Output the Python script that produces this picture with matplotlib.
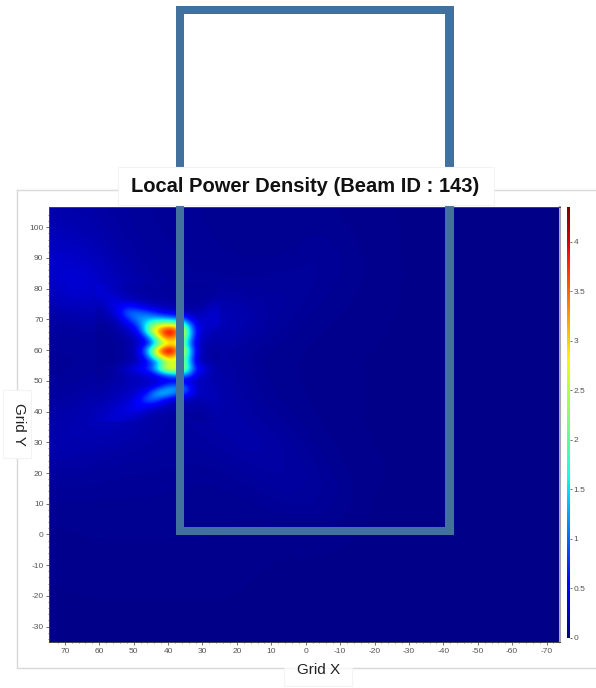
import matplotlib
matplotlib.use("Agg")
import matplotlib.pyplot as plt
import numpy as np
from matplotlib.patches import Rectangle
from matplotlib.lines import Line2D

W, H = 596, 688

x_ticks = [70, 60, 50, 40, 30, 20, 10, 0, -10, -20, -30, -40, -50, -60, -70]
y_ticks = [100, 90, 80, 70, 60, 50, 40, 30, 20, 10, 0, -10, -20, -30]
cbar_ticks = [0, 0.5, 1, 1.5, 2, 2.5, 3, 3.5, 4]
cbar_labels = ["0", "0.5", "1", "1.5", "2", "2.5", "3", "3.5", "4"]

# whole field, nodes every 10 units: x 75..-75, y 110..-40
coarse = [
    [.16, .16, .12, .10, .09, .08, .07, .07, .07, .06, .05, .05, .04, .04, .04, .04],
    [.20, .18, .13, .10, .09, .08, .07, .07, .08, .06, .05, .05, .04, .04, .04, .04],
    [.32, .28, .16, .12, .10, .09, .08, .08, .12, .07, .05, .05, .04, .04, .04, .04],
    [.25, .42, .24, .13, .10, .11, .10, .14, .09, .07, .05, .05, .04, .04, .04, .04],
    [.12, .14, .18, .20, .18, .30, .18, .10, .07, .06, .05, .05, .04, .04, .04, .04],
    [.10, .10, .10, .10, .10, .13, .08, .07, .06, .05, .05, .04, .04, .04, .04, .04],
    [.09, .10, .14, .15, .15, .20, .09, .07, .06, .05, .05, .04, .04, .04, .04, .04],
    [.14, .20, .30, .15, .12, .20, .12, .08, .06, .05, .05, .04, .04, .04, .04, .04],
    [.20, .20, .16, .14, .12, .14, .20, .12, .07, .05, .05, .04, .04, .04, .04, .04],
    [.12, .12, .10, .10, .09, .09, .12, .16, .10, .06, .05, .04, .04, .04, .04, .04],
    [.08, .08, .08, .08, .08, .07, .08, .11, .11, .06, .04, .04, .04, .04, .04, .04],
    [.06, .07, .07, .07, .07, .07, .06, .05, .06, .05, .04, .04, .04, .04, .04, .04],
    [.05, .06, .06, .06, .06, .06, .05, .05, .05, .04, .04, .04, .04, .04, .04, .04],
    [.05, .05, .05, .05, .05, .05, .05, .05, .04, .04, .04, .04, .04, .04, .04, .04],
    [.04, .05, .05, .05, .05, .05, .05, .04, .04, .04, .04, .04, .04, .04, .04, .04],
    [.04, .04, .04, .04, .04, .04, .04, .04, .04, .04, .04, .04, .04, .04, .04, .04],
]

# hot region, nodes every 2 units: x 60..26, y 80..38
hot = [
    [.33, .28, .24, .20, .17, .15, .14, .13, .12, .12, .11, .11, .10, .10, .10, .10, .10, .11],
    [.32, .32, .30, .24, .20, .17, .15, .14, .13, .13, .12, .12, .11, .11, .11, .11, .12, .13],
    [.26, .32, .36, .30, .26, .23, .20, .18, .16, .15, .14, .13, .12, .12, .12, .12, .14, .18],
    [.20, .26, .38, .46, .60, .55, .42, .32, .26, .22, .20, .18, .16, .14, .14, .16, .20, .24],
    [.17, .20, .30, .55, .95, 1.05, 1.0, .90, .70, .50, .42, .32, .24, .20, .20, .24, .28, .28],
    [.15, .16, .22, .34, .65, 1.0, 1.2, 1.3, 1.4, 1.4, 1.3, 1.2, 1.0, .55, .30, .28, .32, .30],
    [.12, .12, .16, .22, .36, .60, 1.1, 1.8, 2.4, 2.7, 2.8, 2.7, 2.3, 1.3, .50, .30, .30, .26],
    [.10, .10, .12, .16, .22, .36, .80, 1.9, 2.9, 3.6, 4.2, 3.9, 2.8, 1.7, .60, .28, .24, .20],
    [.09, .10, .11, .13, .17, .24, .40, .90, 1.9, 3.0, 3.5, 3.3, 2.5, 1.5, .50, .24, .20, .17],
    [.09, .09, .10, .11, .14, .20, .32, .55, 1.3, 2.1, 2.6, 2.7, 2.2, 1.2, .38, .20, .17, .15],
    [.09, .09, .10, .11, .14, .20, .55, 1.4, 2.7, 3.7, 4.3, 3.8, 2.8, 1.7, .50, .20, .15, .13],
    [.09, .09, .10, .11, .14, .20, .40, 1.0, 2.1, 3.0, 3.4, 3.1, 2.4, 1.5, .45, .20, .14, .13],
    [.09, .09, .10, .12, .15, .20, .30, .50, .90, 1.6, 2.4, 2.5, 2.3, 1.4, .40, .20, .14, .13],
    [.10, .11, .13, .20, .30, .40, .55, .75, 1.3, 2.3, 2.9, 2.9, 2.6, 1.7, .70, .42, .28, .16],
    [.10, .11, .13, .17, .20, .25, .30, .35, .50, .80, 1.1, 1.3, 1.25, 1.0, .45, .28, .20, .16],
    [.12, .13, .15, .17, .20, .22, .24, .26, .28, .30, .32, .32, .30, .28, .24, .22, .20, .18],
    [.14, .15, .17, .20, .22, .25, .28, .32, .45, .75, 1.1, 1.25, 1.15, .70, .30, .24, .22, .19],
    [.16, .18, .20, .22, .25, .30, .38, .65, 1.2, 1.5, 1.4, 1.15, .90, .60, .30, .24, .22, .20],
    [.18, .20, .22, .25, .30, .38, .62, 1.0, 1.0, .70, .42, .28, .24, .22, .20, .20, .22, .20],
    [.20, .22, .26, .30, .36, .46, .52, .46, .36, .28, .22, .20, .18, .17, .16, .16, .19, .20],
    [.22, .26, .30, .34, .38, .38, .32, .26, .22, .18, .16, .15, .14, .14, .13, .13, .15, .18],
    [.24, .28, .32, .32, .28, .24, .20, .17, .15, .14, .13, .12, .12, .11, .11, .11, .13, .16],
]

VMAX = 4.35


def box(px0, py0, px1, py1):
    # pixel box, y from the top, to figure fractions
    return [px0 / W, 1 - py1 / H, (px1 - px0) / W, (py1 - py0) / H]


def add_rect(fig, px0, py0, px1, py1, color, zorder, edge="none"):
    x, y, w, h = box(px0, py0, px1, py1)
    fig.add_artist(Rectangle((x, y), w, h, transform=fig.transFigure,
                             facecolor=color, edgecolor=edge, linewidth=0.8, zorder=zorder))


def add_line(fig, px0, py0, px1, py1):
    fig.add_artist(Line2D([px0 / W, px1 / W], [1 - py0 / H, 1 - py1 / H],
                          transform=fig.transFigure, color="#d9d9d9", linewidth=1.0, zorder=1))


def main():
    plt.rcParams["font.family"] = ["Liberation Sans", "DejaVu Sans"]
    plt.rcParams["axes.unicode_minus"] = False
    fig = plt.figure(figsize=(W / 100, H / 100), dpi=100, facecolor="white")

    ax = fig.add_axes(box(49, 207, 560, 642))
    ax.imshow(np.array(coarse), cmap="jet", vmin=0, vmax=VMAX, aspect="auto",
              extent=[80, -80, -45, 115], interpolation="bicubic",
              interpolation_stage="data")
    im = ax.imshow(np.array(hot), cmap="jet", vmin=0, vmax=VMAX, aspect="auto",
                   extent=[61, 25, 37, 81], interpolation="bicubic",
                   interpolation_stage="data")
    ax.set_xlim(74.6, -73.9)
    ax.set_ylim(-35, 106.6)
    ax.set_xticks(x_ticks)
    ax.set_yticks(y_ticks)
    ax.set_xticks(np.arange(-72, 74, 2), minor=True)
    ax.set_yticks(np.arange(-34, 106, 2), minor=True)
    ax.tick_params(which="major", length=2, width=0.6, labelsize=6, colors="#555555", pad=2)
    ax.tick_params(which="minor", length=1, width=0.5, colors="#555555")
    for side in ["left", "bottom", "top"]:
        ax.spines[side].set_color("#444444")
        ax.spines[side].set_linewidth(0.7)
    ax.spines["right"].set_color("#a8a8a8")
    ax.spines["right"].set_linewidth(1.5)

    cax = fig.add_axes(box(567, 207, 570, 638))
    cb = fig.colorbar(im, cax=cax)
    cb.set_ticks(cbar_ticks)
    cb.set_ticklabels(cbar_labels)
    cb.outline.set_visible(False)
    cb.ax.tick_params(length=1.5, width=0.6, labelsize=6, colors="#555555", pad=1)

    # outer panel frame
    add_line(fig, 17, 190, 118, 190)
    add_line(fig, 494, 190, 596, 190)
    add_line(fig, 17, 190, 17, 668)
    add_line(fig, 17, 668, 284, 668)
    add_line(fig, 352, 668, 596, 668)

    # blue rectangle drawn on top of the chart
    blue = "#41719c"
    add_rect(fig, 176, 6, 454, 14, blue, 3)
    add_rect(fig, 176, 6, 184, 535, blue, 3)
    add_rect(fig, 445, 6, 454, 535, blue, 3)
    add_rect(fig, 176, 527, 454, 535, blue, 3)

    # white label boxes
    add_rect(fig, 118, 167, 494, 205, "white", 4, edge="#f3f3f3")
    add_rect(fig, 3, 390, 31, 458, "white", 4, edge="#f3f3f3")
    add_rect(fig, 284, 668, 352, 686, "white", 4, edge="#f3f3f3")

    fig.text(305 / W, 1 - 186 / H, "Local Power Density (Beam ID : 143)", fontsize=14.5,
             fontweight="bold", ha="center", va="center", color="#111111", zorder=5)
    fig.text(319 / W, 1 - 669.5 / H, "Grid X", fontsize=11, ha="center", va="center",
             color="#222222", zorder=5)
    fig.text(19 / W, 1 - 424.5 / H, "Grid Y", fontsize=11, rotation=-90, ha="center",
             va="center", color="#222222", zorder=5)

    fig.savefig("out.png", dpi=100)


if __name__ == "__main__":
    main()
